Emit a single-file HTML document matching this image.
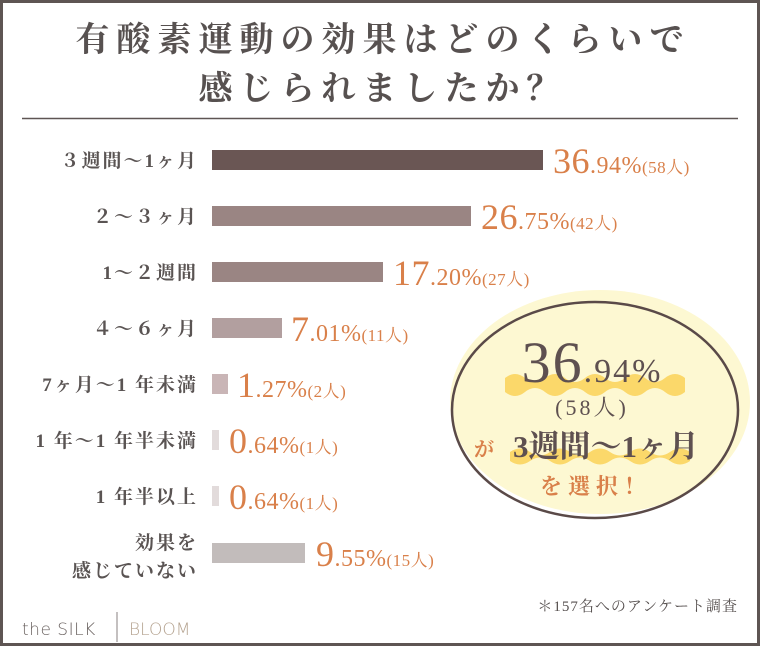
<!DOCTYPE html>
<html><head><meta charset="utf-8"><style>
html,body{margin:0;padding:0;background:#fff}
svg{display:block}
text{font-family:"Liberation Serif","Noto Serif CJK SC",serif}
</style></head><body>
<svg width="760" height="646" viewBox="0 0 760 646" xmlns="http://www.w3.org/2000/svg">
<rect x="1.5" y="1.5" width="757" height="643" fill="#fff" stroke="#5e5553" stroke-width="3"/>
<g fill="#575150" font-size="34" font-weight="bold" text-anchor="middle" letter-spacing="7">
<text x="383" y="51">有酸素運動の効果はどのくらいで</text>
<text x="383" y="100">感じられましたか？</text>
</g>
<line x1="22" y1="118.5" x2="738" y2="118.5" stroke="#5e5553" stroke-width="1.5"/>
<g fill="#5a5453" font-size="19" font-weight="bold" text-anchor="end" letter-spacing="2">
<text x="198" y="167">３週間〜1ヶ月</text>
<text x="198" y="223">２〜３ヶ月</text>
<text x="198" y="279">1〜２週間</text>
<text x="198" y="335">４〜６ヶ月</text>
<text x="198" y="391">7ヶ月〜1 年未満</text>
<text x="198" y="447">1 年〜1 年半未満</text>
<text x="198" y="503">1 年半以上</text>
<text x="198" y="549">効果を</text>
<text x="198" y="577">感じていない</text>
</g>
<rect x="212" y="150" width="331" height="20" fill="#6a5654"/>
<rect x="212" y="206" width="259" height="20" fill="#9a8583"/>
<rect x="212" y="262" width="171" height="20" fill="#9a8583"/>
<rect x="212" y="318" width="70" height="20" fill="#b29f9f"/>
<rect x="212" y="374" width="16" height="20" fill="#c9b5b6"/>
<rect x="212" y="430" width="7" height="20" fill="#e2dbdb"/>
<rect x="212" y="486" width="7" height="20" fill="#e2dbdb"/>
<rect x="212" y="543" width="93" height="20" fill="#c2bcbb"/>
<g fill="#d9804a" letter-spacing="0.5">
<text x="553" y="173"><tspan font-size="36">36</tspan><tspan font-size="24">.94%</tspan><tspan font-size="17">(58人)</tspan></text>
<text x="481" y="229"><tspan font-size="36">26</tspan><tspan font-size="24">.75%</tspan><tspan font-size="17">(42人)</tspan></text>
<text x="393" y="285"><tspan font-size="36">17</tspan><tspan font-size="24">.20%</tspan><tspan font-size="17">(27人)</tspan></text>
<text x="291" y="341"><tspan font-size="36">7</tspan><tspan font-size="24">.01%</tspan><tspan font-size="17">(11人)</tspan></text>
<text x="237" y="397"><tspan font-size="36">1</tspan><tspan font-size="24">.27%</tspan><tspan font-size="17">(2人)</tspan></text>
<text x="229" y="453"><tspan font-size="36">0</tspan><tspan font-size="24">.64%</tspan><tspan font-size="17">(1人)</tspan></text>
<text x="229" y="509"><tspan font-size="36">0</tspan><tspan font-size="24">.64%</tspan><tspan font-size="17">(1人)</tspan></text>
<text x="316" y="566"><tspan font-size="36">9</tspan><tspan font-size="24">.55%</tspan><tspan font-size="17">(15人)</tspan></text>
</g>
<ellipse cx="600" cy="402" rx="150" ry="112" fill="#fdf8d2"/>
<ellipse cx="595" cy="410" rx="143" ry="108" fill="none" stroke="#5a4a48" stroke-width="2.5"/>
<path d="M505 378 q10 -8 20 0 q10 8 20 0 q10 -8 20 0 q10 8 20 0 q10 -8 20 0 q10 8 20 0 q10 -8 20 0 q10 8 20 0 q10 -8 20 0 v14 q-10 8 -20 0 q-10 -8 -20 0 q-10 8 -20 0 q-10 -8 -20 0 q-10 8 -20 0 q-10 -8 -20 0 q-10 8 -20 0 q-10 -8 -20 0 q-10 8 -20 0z" fill="#fbd86a"/>
<path d="M510 452 q10 -7 20 0 q10 7 20 0 q10 -7 20 0 q10 7 20 0 q10 -7 20 0 q10 7 20 0 q10 -7 20 0 q10 7 20 0 q10 -7 20 0 v9 q-10 7 -20 0 q-10 -7 -20 0 q-10 7 -20 0 q-10 -7 -20 0 q-10 7 -20 0 q-10 -7 -20 0 q-10 7 -20 0 q-10 -7 -20 0 q-10 7 -20 0z" fill="#fbd86a"/>
<g fill="#5e5050" text-anchor="middle">
<text x="592" y="382" letter-spacing="2"><tspan font-size="58">36</tspan><tspan font-size="34">.94%</tspan></text>
<text x="592" y="415" font-size="22" letter-spacing="3">(58人)</text>
<text x="606" y="457" font-size="31" font-weight="bold">3週間〜1ヶ月</text>
</g>
<text x="484" y="456" font-size="20" font-weight="bold" fill="#d9804a" text-anchor="middle">が</text>
<text x="596" y="494" font-size="22" font-weight="bold" fill="#d9804a" text-anchor="middle" letter-spacing="6">を選択！</text>
<text x="738" y="611" font-size="15" fill="#575150" text-anchor="end" letter-spacing="1">＊157名へのアンケート調査</text>
<text x="22" y="635" fill="#6a6260" font-size="17" style="font-family:'DejaVu Sans','Liberation Sans',sans-serif;font-weight:200" letter-spacing="0.5">the SILK</text>
<line x1="117" y1="612" x2="117" y2="642" stroke="#8a8280" stroke-width="1"/>
<text x="129" y="635" fill="#b5a390" font-size="17" style="font-family:'DejaVu Sans','Liberation Sans',sans-serif;font-weight:200">BLOOM</text>
</svg>
</body></html>
